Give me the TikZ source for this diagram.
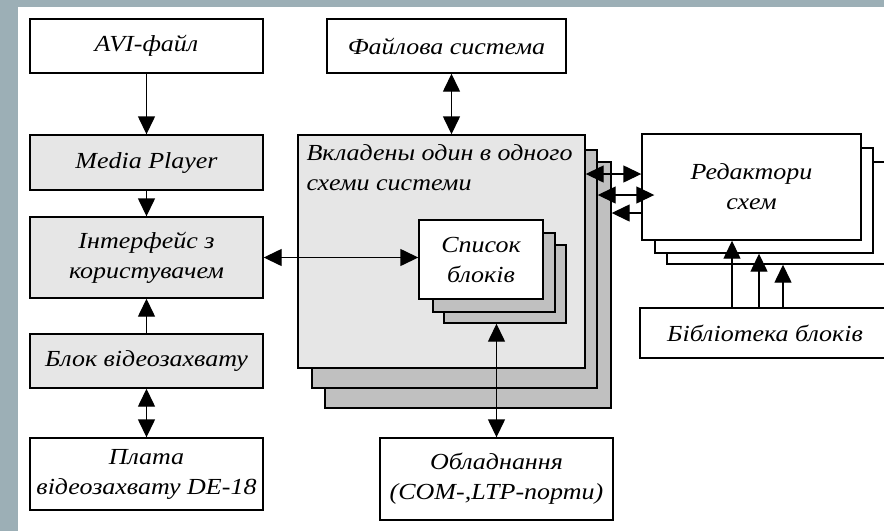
\documentclass[tikz,border=0pt]{standalone}
\usepackage{fontspec}
\setmainfont{Liberation Serif}[FakeStretch=1.13]
\usetikzlibrary{arrows.meta, positioning, calc}
\definecolor{frame}{RGB}{156,175,182}
\definecolor{panel}{RGB}{230,230,230}
\definecolor{layer}{RGB}{192,192,192}

\tikzset{
  box/.style={draw, fill=white, line width=1.4pt, inner sep=2pt, align=center,
    font=\itshape\fontsize{23}{30}\selectfont},
  sz/.style 2 args={minimum width=#1pt, minimum height=#2pt},
  link/.style={line width=1.4pt},
}

\begin{document}
\begin{tikzpicture}[x=1pt, y=-1pt, >={Triangle[length=18pt,width=17pt]}]
  \clip (0,0) rectangle (884,531);
  \fill[frame] (0,0) rectangle (884,531);
  \fill[white] (18,7) rectangle (884,531);

  % left column
  \node[box, sz={233}{54}] (avi) at (146.5,46) {AVI-файл};
  \node[box, fill=panel, sz={233}{55}] (media) at (146.5,162.5) {Media Player};
  \node[box, fill=panel, sz={233}{81}] (iface) at (146.5,257.5) {Інтерфейс з\\користувачем};
  \node[box, fill=panel, sz={233}{54}] (grab) at (146.5,361) {Блок відеозахвату};
  \node[box, sz={233}{72}] (board) at (146.5,474) {Плата\\відеозахвату DE-18};

  % middle: nested schemes
  \node[box, sz={239}{54}] (fs) at (446.5,46) {Файлова система};
  \node[box, fill=layer, sz={286}{246}] (sys3) at (468,285) {};
  \node[box, fill=layer, sz={285}{238}] (sys2) at (454.5,269) {};
  \node[box, fill=panel, sz={287}{233}] (sys) at (441.5,251.5) {};
  \node[anchor=north west, align=left, inner sep=2pt, font=\itshape\fontsize{23}{30}\selectfont]
    (systitle) at ([shift={(7,8)}]sys.north west) {Вкладены один в одного\\схеми системи};
  \node[box, fill=layer, sz={122}{78}] (list3) at (505,284) {};
  \node[box, fill=layer, sz={122}{79}] (list2) at (494,272.5) {};
  \node[box, sz={124}{79}] (list) at (481,259.5) {Список\\блоків};
  \node[box, sz={233}{82}] (hw) at (496.5,479) {Обладнання\\(COM-,LTP-порти)};

  % right: editors
  \node[box, sz={224}{102}] (ed3) at (779,213) {};
  \node[box, sz={218}{105}] (ed2) at (764,200.5) {};
  \node[box, sz={219}{106}] (ed) at (751.5,187) {Редактори\\схем};
  \node[box, sz={250}{50}] (lib) at (765,333) {Бібліотека блоків};

  % connectors
  \draw[link, ->] (avi) -- (media);
  \draw[link, ->] (media) -- (iface);
  \draw[link, ->] (grab) -- (iface);
  \draw[link, <->] (grab) -- (board);
  \draw[link, <->] ([xshift=5]fs.south) -- ([xshift=5]fs.south |- sys.north);
  \draw[link, <->] (iface.east) -- (iface.east -| list.west);
  \draw[link, <->] (list3.south -| hw.north) -- (hw.north);
  \draw[link, <->] (sys.east |- 0,174) -- (ed.west |- 0,174);
  \draw[link, <->] (sys2.east |- 0,195) -- (ed2.west |- 0,195);
  \draw[link, ->] (ed.west |- 0,213) -- (sys3.east |- 0,213);
  \foreach \x/\dst in {732/ed, 759/ed2, 783/ed3}
    \draw[link, ->] (lib.north -| \x,0) -- (\dst.south -| \x,0);
\end{tikzpicture}
\end{document}
